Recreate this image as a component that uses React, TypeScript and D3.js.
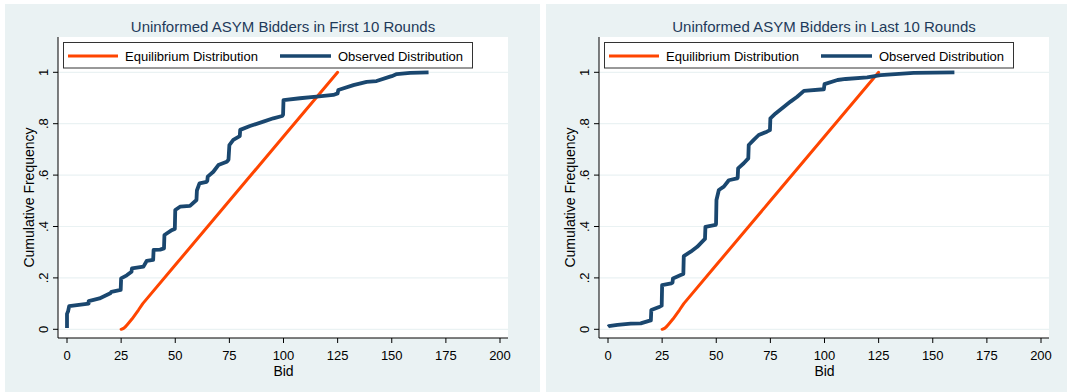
import React from "react";
import * as d3 from "d3";

// Equilibrium distribution (same in both panels)
const eqBid = [25, 26, 27, 28, 30, 33, 35, 50, 75, 100, 125];
const eqCdf = [0, 0.003, 0.01, 0.02, 0.04, 0.075, 0.1, 0.25, 0.5, 0.75, 1];

// Observed distribution, first 10 rounds
const firstBid = [0, 0, 0.5, 1, 10, 10, 15, 20, 20.5, 24.8, 25, 27.6, 29.8, 30, 35.3, 36.8, 39.8, 40, 43, 44.8, 45, 48.4, 49.8, 50, 52.2, 56.8, 59.8, 60, 61.2, 64.5, 64.8, 65, 67.6, 69.9, 73.8, 74.6, 75, 76.8, 79.2, 79.8, 80, 84.5, 90.7, 95.3, 99.4, 99.8, 100, 107.6, 115.3, 123, 125, 125.3, 132.3, 138.4, 143, 149.2, 150, 152.3, 158.5, 167];
const firstCdf = [0.005, 0.06, 0.07, 0.09, 0.1, 0.11, 0.12, 0.14, 0.146, 0.153, 0.198, 0.21, 0.224, 0.237, 0.244, 0.266, 0.27, 0.309, 0.31, 0.315, 0.367, 0.386, 0.39, 0.464, 0.477, 0.48, 0.503, 0.54, 0.568, 0.574, 0.578, 0.594, 0.613, 0.639, 0.652, 0.66, 0.717, 0.737, 0.749, 0.752, 0.776, 0.791, 0.808, 0.821, 0.83, 0.835, 0.892, 0.899, 0.905, 0.912, 0.918, 0.931, 0.95, 0.963, 0.966, 0.983, 0.985, 0.993, 0.998, 1];

// Observed distribution, last 10 rounds
const lastBid = [0, 0.3, 4.4, 10.5, 15.1, 18.9, 19.8, 20, 23.9, 24.8, 25, 29.2, 29.8, 30, 33.6, 34.8, 35, 38.2, 41.2, 44.2, 44.8, 45, 49.7, 49.9, 50.1, 51.2, 53.5, 55.8, 59.6, 59.9, 60.1, 62.7, 64.8, 65, 67.3, 69.6, 73.4, 74.8, 75, 77.4, 81.3, 84.3, 87.4, 90.5, 99.7, 100, 106, 109.8, 119.7, 125.9, 141.2, 160];
const lastCdf = [0.01, 0.012, 0.017, 0.022, 0.023, 0.033, 0.035, 0.075, 0.088, 0.092, 0.172, 0.179, 0.182, 0.198, 0.211, 0.215, 0.285, 0.302, 0.321, 0.347, 0.352, 0.399, 0.406, 0.41, 0.503, 0.542, 0.555, 0.58, 0.587, 0.59, 0.626, 0.646, 0.665, 0.717, 0.737, 0.756, 0.769, 0.775, 0.821, 0.84, 0.866, 0.886, 0.905, 0.928, 0.934, 0.954, 0.97, 0.974, 0.98, 0.989, 0.998, 1];

const xTicks = [0, 25, 50, 75, 100, 125, 150, 175, 200];
const yTicks = [0, 0.2, 0.4, 0.6, 0.8, 1];
const yTickLabels = ["0", ".2", ".4", ".6", ".8", "1"];
const titles = ["Uninformed ASYM Bidders in First 10 Rounds", "Uninformed ASYM Bidders in Last 10 Rounds"];
const legendLabels = ["Equilibrium Distribution", "Observed Distribution"];

const BG = "#eaf2f3";
const NAVY = "#1a476f";
const ORANGE = "#ff4500";
const FONT = "'Liberation Sans', Arial, sans-serif";

type Pt = [number, number];

function Panel({ ox, bgW, title, obsBid, obsCdf }: { ox: number; bgW: number; title: string; obsBid: number[]; obsCdf: number[] }) {
  const x = d3.scaleLinear().domain([0, 200]).range([67, 500]);
  const y = d3.scaleLinear().domain([0, 1]).range([329.3, 72.3]);
  const plotL = 58, plotR = 508, plotT = 37, plotB = 338;
  const line = d3.line<Pt>().x((d) => x(d[0])).y((d) => y(d[1]));
  const eq: Pt[] = eqBid.map((b, i) => [b, eqCdf[i]]);
  const obs: Pt[] = obsBid.map((b, i) => [b, obsCdf[i]]);
  return (
    <g transform={`translate(${ox},0)`}>
      <rect x={5} y={4} width={bgW} height={392} fill={BG} />
      <rect x={plotL} y={plotT} width={plotR - plotL} height={plotB - plotT} fill="#ffffff" />
      {yTicks.map((t) => (
        <line key={t} x1={plotL} x2={plotR} y1={y(t)} y2={y(t)} stroke={BG} strokeWidth={1.2} />
      ))}
      <text x={283} y={32} textAnchor="middle" fontFamily={FONT} fontSize={15} fill="#1e3a5a">
        {title}
      </text>
      {/* axes */}
      <line x1={plotL} x2={plotL} y1={plotT} y2={plotB} stroke="#000" strokeWidth={1} />
      <line x1={plotL} x2={plotR} y1={plotB} y2={plotB} stroke="#000" strokeWidth={1} />
      {yTicks.map((t, i) => (
        <g key={t}>
          <line x1={plotL - 5} x2={plotL} y1={y(t)} y2={y(t)} stroke="#000" />
          <text
            transform={`translate(${plotL - 10},${y(t)}) rotate(-90)`}
            textAnchor="middle"
            fontFamily={FONT}
            fontSize={13}
            fill="#000"
          >
            {yTickLabels[i]}
          </text>
        </g>
      ))}
      {xTicks.map((t) => (
        <g key={t}>
          <line x1={x(t)} x2={x(t)} y1={plotB} y2={plotB + 5} stroke="#000" />
          <text x={x(t)} y={360} textAnchor="middle" fontFamily={FONT} fontSize={13} fill="#000">
            {t}
          </text>
        </g>
      ))}
      <text x={x(100)} y={376} textAnchor="middle" fontFamily={FONT} fontSize={14} fill="#000">
        Bid
      </text>
      <text
        transform={`translate(34,${(plotT + plotB) / 2 + 10}) rotate(-90)`}
        textAnchor="middle"
        fontFamily={FONT}
        fontSize={14}
        fill="#000"
      >
        Cumulative Frequency
      </text>
      {/* data */}
      <path d={line(eq) || ""} fill="none" stroke={ORANGE} strokeWidth={3} strokeLinejoin="round" strokeLinecap="round" />
      <path d={line(obs) || ""} fill="none" stroke={NAVY} strokeWidth={3.8} strokeLinejoin="round" />
      {/* legend */}
      <rect x={63.5} y={42.5} width={409} height={25.5} fill="#fff" stroke="#333" strokeWidth={1} />
      <line x1={68} x2={118} y1={56} y2={56} stroke={ORANGE} strokeWidth={3} />
      <text x={125} y={60.5} fontFamily={FONT} fontSize={13} fill="#000">
        {legendLabels[0]}
      </text>
      <line x1={280} x2={331} y1={56} y2={56} stroke={NAVY} strokeWidth={3.5} />
      <text x={338} y={60.5} fontFamily={FONT} fontSize={13} fill="#000">
        {legendLabels[1]}
      </text>
    </g>
  );
}

export default function App() {
  return (
    <svg width={1070} height={392} style={{ position: "absolute", left: 0, top: 0, display: "block" }}>
      <rect x={0} y={0} width={1070} height={392} fill="#fff" />
      <Panel ox={0} bgW={535} title={titles[0]} obsBid={firstBid} obsCdf={firstCdf} />
      <Panel ox={541} bgW={521} title={titles[1]} obsBid={lastBid} obsCdf={lastCdf} />
    </svg>
  );
}
